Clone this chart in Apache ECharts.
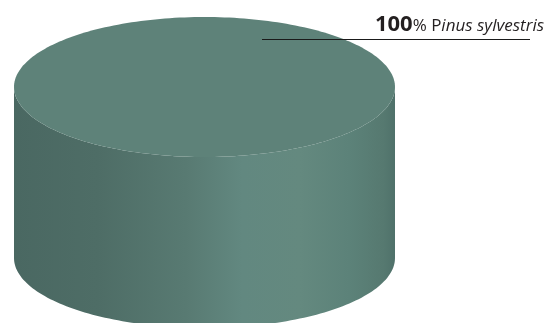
<!DOCTYPE html>
<html>
<head>
<meta charset="utf-8">
<script src="https://cdn.jsdelivr.net/npm/echarts@6/dist/echarts.min.js"></script>
<style>
html,body{margin:0;padding:0;background:#fff;}
#chart{width:552px;height:323px;}
</style>
</head>
<body>
<div id="chart"></div>
<script>
// Data
const categories = ['Pinus sylvestris'];
const values = [100];
const percentLabels = ['100'];

const chart = echarts.init(document.getElementById('chart'), null, {renderer: 'canvas'});

const total = values.reduce((a, b) => a + b, 0);

function ellipsePts(cx, cy, rx, ry, a0, a1, n) {
  const pts = [];
  for (let i = 0; i <= n; i++) {
    const t = a0 + (a1 - a0) * i / n;
    pts.push([cx + rx * Math.cos(t), cy + ry * Math.sin(t)]);
  }
  return pts;
}

function renderItem(params, api) {
  const idx = params.dataIndex;
  let start = 0;
  for (let i = 0; i < idx; i++) start += values[i];
  const v = api.value(0);
  const a0 = -Math.PI / 2 + start / total * Math.PI * 2;
  const a1 = a0 + v / total * Math.PI * 2;

  const cx = 204.5, cy = 87, rx = 190.5, ry = 70, h = 171;
  const full = Math.abs(a1 - a0) >= Math.PI * 2 - 1e-6;

  const lo = full ? 0 : Math.max(a0, 0);
  const hi = full ? Math.PI : Math.min(a1, Math.PI);
  const children = [];
  if (hi > lo) {
    const topArc = ellipsePts(cx, cy, rx, ry, lo, hi, 120);
    const botArc = ellipsePts(cx, cy + h, rx, ry, hi, lo, 120);
    children.push({
      type: 'polygon',
      shape: {points: topArc.concat(botArc)},
      style: {
        fill: new echarts.graphic.LinearGradient(cx - rx, 0, cx + rx, 0, [
          {offset: 0, color: '#4a6862'},
          {offset: 0.22, color: '#4e6d66'},
          {offset: 0.45, color: '#587a72'},
          {offset: 0.6, color: '#628880'},
          {offset: 0.75, color: '#64897f'},
          {offset: 0.88, color: '#5c8279'},
          {offset: 0.97, color: '#567970'},
          {offset: 1, color: '#4f716a'}
        ], true),
        stroke: null
      }
    });
  }
  let topPts;
  if (full) {
    topPts = ellipsePts(cx, cy, rx, ry, 0, Math.PI * 2, 240);
  } else {
    topPts = [[cx, cy]].concat(ellipsePts(cx, cy, rx, ry, a0, a1, 240));
  }
  children.push({
    type: 'polygon',
    shape: {points: topPts},
    style: {fill: '#5e8279', stroke: null}
  });

  children.push({
    type: 'line',
    shape: {x1: 262, y1: 39.5, x2: 530, y2: 39.5},
    style: {stroke: '#1a1a1a', lineWidth: 1}
  });
  children.push({
    type: 'text',
    x: 544, y: 36,
    style: {
      text: '{b|' + percentLabels[idx] + '}{r|% P}{i|' + categories[idx].slice(1) + '}',
      align: 'right',
      verticalAlign: 'bottom',
      rich: {
        b: {fontFamily: 'Open Sans', fontWeight: 'bold', fontSize: 22, fill: '#231f20', verticalAlign: 'bottom'},
        r: {fontFamily: 'Open Sans', fontSize: 17, fill: '#231f20', verticalAlign: 'bottom', padding: [0, 0, 1, 0]},
        i: {fontFamily: 'Open Sans', fontStyle: 'italic', fontSize: 17, fill: '#231f20', verticalAlign: 'bottom', padding: [0, 0, 1, 0]}
      }
    }
  });
  return {type: 'group', children: children};
}

chart.setOption({
  animation: false,
  series: [{
    type: 'custom',
    coordinateSystem: 'none',
    renderItem: renderItem,
    data: values.map(v => [v])
  }]
});
</script>
</body>
</html>
